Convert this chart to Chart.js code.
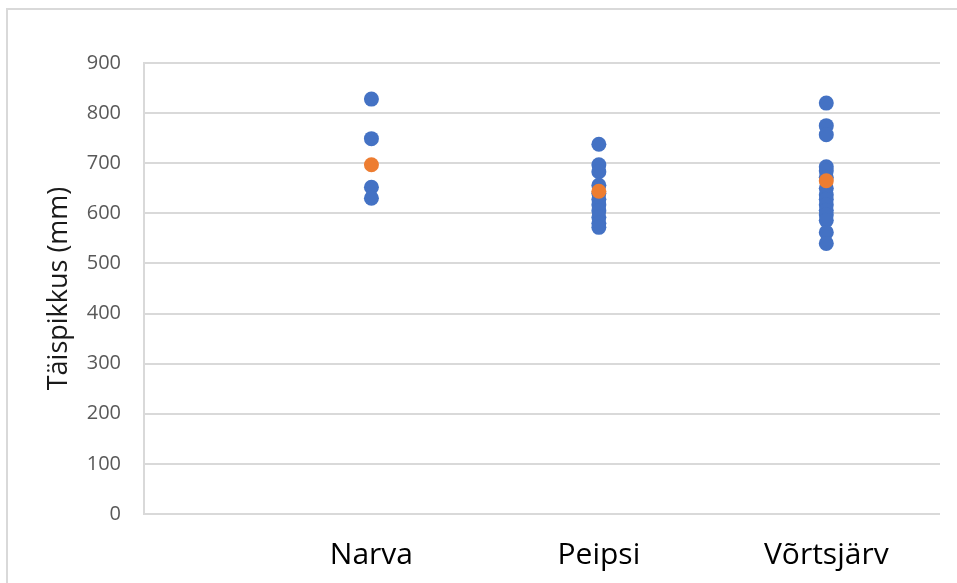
<!DOCTYPE html>
<html>
<head>
<meta charset="utf-8">
<script src="https://cdn.jsdelivr.net/npm/chart.js@4/dist/chart.umd.min.js"></script>
<style>
html,body{margin:0;padding:0;background:#fff;}
#wrap{width:957px;height:583px;position:relative;}
</style>
</head>
<body>
<div id="wrap"><canvas id="c" width="957" height="583"></canvas></div>
<script>
const categories = ["Narva", "Peipsi", "Võrtsjärv"];
const narvaValues = [828, 749, 652, 630];
const peipsiValues = [738, 697, 683, 656, 640, 628, 617, 605, 592, 580, 572];
const vortsjarvValues = [820, 775, 757, 693, 685, 672, 650, 637, 628, 617, 606, 597, 586, 562, 540];
const meanValues = [697, 644, 665];
const yTicks = [0, 100, 200, 300, 400, 500, 600, 700, 800, 900];
const yTitle = "Täispikkus (mm)";

const groups = [narvaValues, peipsiValues, vortsjarvValues];
const bluePoints = [];
groups.forEach((arr, i) => arr.forEach(v => bluePoints.push({x: i + 1, y: v})));
const orangePoints = meanValues.map((v, i) => ({x: i + 1, y: v}));

const frame = {
  id: 'frame',
  beforeDraw(chart) {
    const ctx = chart.ctx;
    ctx.save();
    ctx.strokeStyle = '#d9d9d9';
    ctx.lineWidth = 2;
    ctx.beginPath();
    ctx.moveTo(7, 583);
    ctx.lineTo(7, 9);
    ctx.lineTo(957, 9);
    ctx.stroke();
    ctx.restore();
  }
};

new Chart(document.getElementById('c'), {
  type: 'scatter',
  data: {
    datasets: [
      {data: orangePoints, backgroundColor: '#ED7D31', borderColor: '#ED7D31', pointRadius: 7.5, borderWidth: 0},
      {data: bluePoints, backgroundColor: '#4472C4', borderColor: '#4472C4', pointRadius: 7.5, borderWidth: 0}
    ]
  },
  plugins: [frame],
  options: {
    responsive: false,
    animation: false,
    layout: {padding: {left: 0, right: 17, top: 63, bottom: 0}},
    plugins: {legend: {display: false}, tooltip: {enabled: false}},
    scales: {
      x: {
        type: 'linear', min: 0, max: 3.5,
        grid: {display: false, drawTicks: false},
        border: {display: false},
        afterBuildTicks(scale) { scale.ticks = categories.map((c, i) => ({value: i + 1})); },
        ticks: {
          autoSkip: false, maxRotation: 0, padding: 23,
          color: '#000000',
          font: {family: '"Open Sans"', size: 30},
          callback: (v) => categories[v - 1] || ''
        },
        afterFit(scale) { scale.height = 69; }
      },
      y: {
        min: 0, max: 900,
        afterBuildTicks(scale) { scale.ticks = yTicks.map(v => ({value: v})); },
        grid: {color: '#d9d9d9', lineWidth: 2, drawTicks: false},
        border: {display: true, color: '#d9d9d9', width: 2},
        ticks: {padding: 23, color: '#595959', font: {family: '"Open Sans"', size: 20}},
        title: {display: true, text: yTitle, color: '#1a1a1a', font: {family: '"Open Sans"', size: 27}, padding: {top: 43, bottom: 0}},
        afterFit(scale) { scale.width = 144; }
      }
    }
  }
});
</script>
</body>
</html>
